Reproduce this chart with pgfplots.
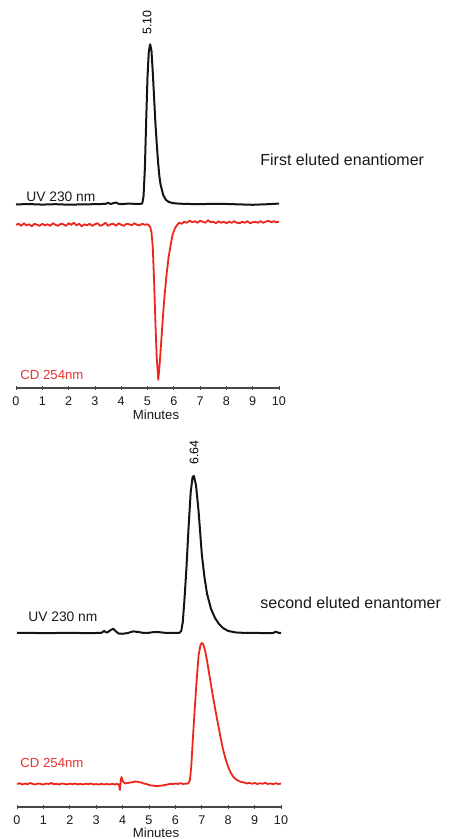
\documentclass[border=0pt]{standalone}
\usepackage{pgfplots}
\usepackage{pgfplotstable}
\pgfplotsset{compat=1.18}
\usepackage{fontspec}
\setmainfont{Liberation Sans}
\definecolor{cdred}{RGB}{236,38,28}
\definecolor{lblred}{RGB}{228,52,48}
\definecolor{uvblack}{RGB}{20,20,20}
\definecolor{axisgray}{RGB}{70,70,70}

\pgfplotstableread{
x y
0.0 180
0.5 180.3
1.0 179.8
1.5 180.2
2.0 179.7
2.5 180
3.0 180.2
3.4 180.5
3.5 181.5
3.6 180.4
3.7 181.2
3.8 181.8
3.9 180.6
4.0 180.3
4.3 180.8
4.6 180.4
4.75 180.5
4.80 181
4.85 188
4.90 215
4.95 262
5.00 305
5.05 330
5.10 337
5.15 331
5.20 310
5.25 285
5.30 260
5.35 240
5.40 222
5.45 208
5.50 199
5.60 189
5.70 184.5
5.80 182.5
5.95 181.3
6.2 180.7
6.6 180.4
7.0 180.2
7.5 180.6
8.0 180.4
8.5 180.0
9.0 179.6
9.5 180.1
10.0 180.8
}\uvA

\pgfplotstableread{
x y
0.0 160
0.1 161
0.2 159
0.3 161.5
0.4 159.5
0.5 160.5
0.6 158.5
0.7 161
0.8 160
0.9 159
1.0 161
1.1 159.5
1.2 160.5
1.3 159
1.4 161.5
1.5 160
1.6 159
1.7 161
1.8 160.5
1.9 159
2.0 161.5
2.1 160
2.2 162
2.3 159.5
2.4 161
2.5 158.5
2.6 160.5
2.7 159.5
2.8 161
2.9 159
3.0 160.5
3.1 161.5
3.2 159
3.3 160
3.4 162
3.5 159
3.6 160.5
3.7 161
3.8 159
3.9 161.5
4.0 160
4.1 159
4.2 161
4.3 160.5
4.4 159.5
4.5 161.5
4.6 160
4.7 159.5
4.8 161
4.9 160
5.0 160.5
5.05 159.5
5.10 158
5.15 153
5.20 138
5.25 105
5.30 65
5.35 30
5.41 8
5.47 26
5.55 56
5.63 85
5.72 110
5.80 128
5.88 140
5.95 150
6.05 157
6.15 160.5
6.2 162
6.3 161
6.4 163
6.5 162
6.6 164
6.7 162.5
6.8 163.5
6.9 162
7.0 164
7.1 163
7.2 162
7.3 164.5
7.4 162.5
7.5 163
7.6 161.5
7.7 163.5
7.8 162
7.9 163
8.0 161.5
8.1 163
8.2 162
8.3 163.5
8.4 162
8.5 161.5
8.6 163
8.7 162
8.8 163.5
8.9 161.5
9.0 162.5
9.1 163
9.2 162
9.3 163.5
9.4 162
9.5 163
9.6 164
9.7 162.5
9.8 163.5
9.9 162.5
10.0 163
}\cdA

\pgfplotstableread{
x y
0.0 174
0.5 174.2
1.0 173.8
1.5 174
2.0 174.2
2.5 173.9
3.0 174
3.2 174.2
3.3 176
3.38 174.5
3.45 175
3.55 177
3.65 178.2
3.75 175.5
3.85 173.5
4.0 173.2
4.2 174
4.4 175.6
4.6 175
4.8 174
5.0 174.2
5.2 175
5.4 174.8
5.6 174.2
5.9 174
6.15 174.2
6.22 176
6.28 185
6.35 210
6.42 240
6.50 280
6.58 315
6.65 330
6.70 331
6.78 322
6.88 295
7.00 253
7.10 230
7.20 213
7.35 198
7.50 189
7.65 183
7.80 179
8.00 176
8.30 174.5
8.70 174
9.00 174.2
9.40 173.8
9.70 174
9.80 175.3
9.90 174.2
10.0 174
}\uvB

\pgfplotstableread{
x y
0.0 23
0.1 23.8
0.2 22.5
0.3 23.5
0.4 22.8
0.5 24
0.6 23
0.7 22.5
0.8 23.6
0.9 23
1.0 22.4
1.1 23.5
1.2 23
1.3 24
1.4 22.8
1.5 23.2
1.6 22.5
1.7 23.6
1.8 23
1.9 22.6
2.0 23.4
2.1 22.8
2.2 23.5
2.3 22.6
2.4 23.2
2.5 22.5
2.6 23.3
2.7 22.8
2.8 23.5
2.9 22.5
3.0 23
3.1 22.4
3.2 23.2
3.3 22.6
3.4 23
3.5 22.5
3.6 23.2
3.7 22.6
3.8 23
3.86 22.5
3.90 17
3.93 27
3.96 30
4.00 26
4.05 24.5
4.1 23.5
4.2 24
4.3 24.5
4.4 25
4.5 25.5
4.6 25
4.7 24.5
4.8 23.5
4.9 23
5.0 22
5.1 21.5
5.2 21.2
5.3 21
5.4 21.2
5.5 21.5
5.6 22
5.7 22.5
5.8 23.2
5.9 22.8
6.0 23.5
6.1 23
6.2 23.8
6.3 23
6.4 23.5
6.45 23.2
6.50 24
6.55 27
6.60 40
6.65 63
6.72 93
6.80 125
6.88 152
6.95 162
7.00 164
7.05 163
7.12 157
7.20 146
7.30 130
7.40 114
7.50 99
7.60 85
7.70 71
7.80 58
7.90 48
8.00 40
8.10 34
8.20 30
8.30 27.5
8.40 26
8.50 25
8.60 24.5
8.70 23.5
8.80 24.2
8.90 23.2
9.00 24
9.10 23
9.20 23.8
9.30 23.2
9.40 24.2
9.50 23
9.60 23.6
9.70 22.8
9.80 23.8
9.90 23
10.0 23.4
}\cdB

\pgfplotsset{chromo/.style={
  scale only axis,
  axis x line=bottom,
  axis y line=none,
  xmin=0, xmax=10,
  xtick={0,1,...,10},
  ymin=0,
  clip=false,
  axis line style={-, line width=0.7pt, color=axisgray},
  tick style={line width=0.4pt, color=axisgray},
  major tick length=2pt,
  tick align=center,
  /pgf/number format/assume math mode=true,
  xticklabel style={font=\fontsize{6.3}{7}\selectfont, text=black!90, inner sep=0pt, yshift=-3.4pt},
}}

\begin{document}
\begin{tikzpicture}
\useasboundingbox (0,0) rectangle (224.5pt,419.5pt);
% top panel
\begin{axis}[chromo, at={(8pt,225.5pt)}, anchor=south west,
  width=131.5pt, height=194pt, ymax=388]
\addplot[uvblack, line width=1pt, line join=round] table[x=x,y=y]{\uvA};
\addplot[cdred, line width=0.9pt, line join=round] table[x=x,y=y]{\cdA};
\end{axis}
% bottom panel
\begin{axis}[chromo, at={(8.5pt,16pt)}, anchor=south west,
  width=132pt, height=193.5pt, ymax=387]
\addplot[uvblack, line width=1pt, line join=round] table[x=x,y=y]{\uvB};
\addplot[cdred, line width=0.9pt, line join=round] table[x=x,y=y]{\cdB};
\end{axis}
% texts top
\node[rotate=90, font=\fontsize{6.2}{7}\selectfont, inner sep=0pt] at (73.5pt,408.25pt) {5.10};
\node[anchor=west, inner sep=0pt, font=\fontsize{6.9}{8}\selectfont, text=black!90] at (13pt,321pt) {UV 230 nm};
\node[anchor=west, inner sep=0pt, font=\fontsize{6.6}{8}\selectfont, text=lblred] at (10pt,232pt) {CD 254nm};
\node[anchor=west, inner sep=0pt, font=\fontsize{8}{9}\selectfont, text=black!90] at (130pt,339.5pt) {First eluted enantiomer};
\node[inner sep=0pt, font=\fontsize{6.6}{8}\selectfont, text=black!90] at (78pt,212pt) {Minutes};
% texts bottom
\node[rotate=90, font=\fontsize{6.2}{7}\selectfont, inner sep=0pt] at (97pt,193.25pt) {6.64};
\node[anchor=west, inner sep=0pt, font=\fontsize{6.9}{8}\selectfont, text=black!90] at (14pt,111pt) {UV 230 nm};
\node[anchor=west, inner sep=0pt, font=\fontsize{6.6}{8}\selectfont, text=lblred] at (10pt,38pt) {CD 254nm};
\node[anchor=west, inner sep=0pt, font=\fontsize{8}{9}\selectfont, text=black!90] at (130pt,118pt) {second eluted enantomer};
\node[inner sep=0pt, font=\fontsize{6.6}{8}\selectfont, text=black!90] at (78pt,3pt) {Minutes};
\end{tikzpicture}
\end{document}
